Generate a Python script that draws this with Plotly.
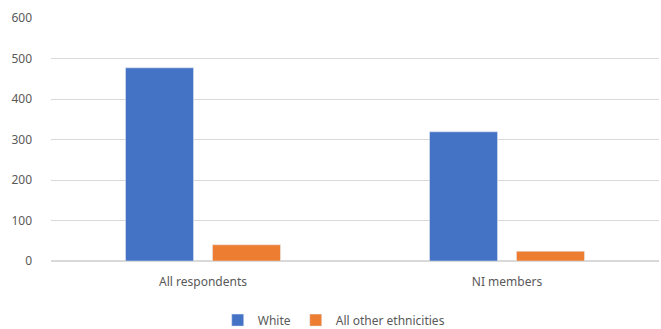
import plotly.graph_objects as go

categories = ["All respondents", "NI members"]
white = [477, 319]
other = [40, 24]
series_names = ["White", "All other ethnicities"]
y_ticks = [0, 100, 200, 300, 400, 500, 600]

fig = go.Figure()
fig.add_trace(go.Bar(x=categories, y=white, name=series_names[0], marker_color="#4472C4"))
fig.add_trace(go.Bar(x=categories, y=other, name=series_names[1], marker_color="#ED7D31"))

fig.update_layout(
    width=661, height=329,
    margin=dict(l=51, r=2, t=18, b=68, autoexpand=False),
    paper_bgcolor="white", plot_bgcolor="white",
    barmode="group", bargap=0.428, bargroupgap=0.218,
    font=dict(family="Noto Sans", size=12, color="#595959"),
    showlegend=True,
    legend=dict(orientation="h", x=0.465, xanchor="center", yref="container", y=0.027,
                yanchor="middle", font=dict(size=12, color="#595959"),
                itemwidth=30, traceorder="normal"),
    xaxis=dict(showgrid=False, showline=False, ticks="", tickfont=dict(size=12),
               ticklabelstandoff=12),
    yaxis=dict(range=[0, 600], tickvals=y_ticks, showgrid=True, gridcolor="#D9D9D9",
               gridwidth=1, zeroline=True, zerolinecolor="#D9D9D9", ticks="",
               tickfont=dict(size=12), ticklabelstandoff=18),
)
fig.write_html("out.html")
